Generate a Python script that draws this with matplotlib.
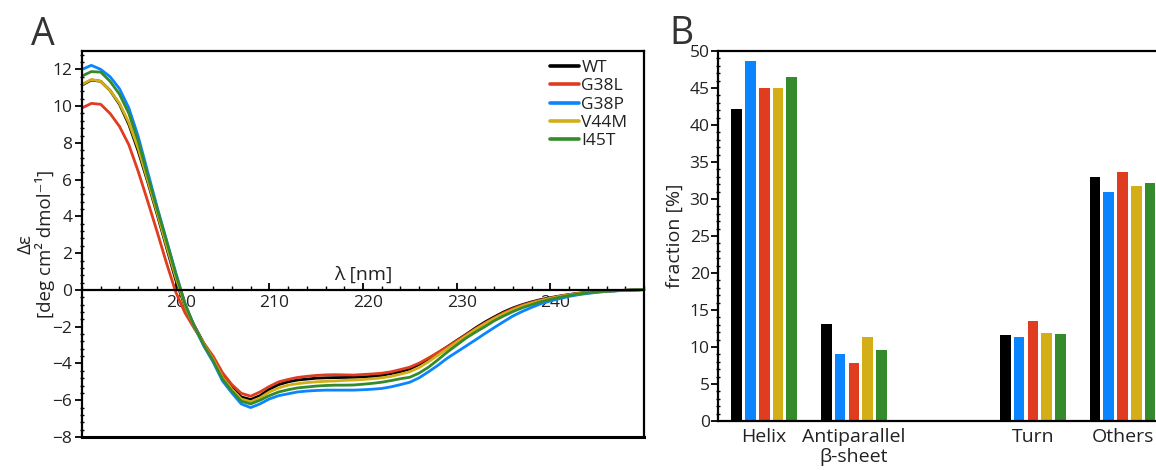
import numpy as np
import matplotlib
matplotlib.use("Agg")
import matplotlib.pyplot as plt
from matplotlib.ticker import MultipleLocator, AutoMinorLocator
from matplotlib.transforms import ScaledTranslation

plt.rcParams['font.family'] = ['Open Sans', 'DejaVu Sans']

# CD spectra, 190-250 nm in 1 nm steps
wavelength = np.arange(190, 251)

wt = [11.15, 11.42, 11.35, 10.85, 10.1, 9.0, 7.55, 5.9, 4.15, 2.35,
      0.55, -0.9, -1.95, -2.9, -3.7, -4.65, -5.3, -5.82, -5.96, -5.75,
      -5.4, -5.15, -5.0, -4.9, -4.85, -4.8, -4.78, -4.77, -4.76, -4.75,
      -4.73, -4.7, -4.65, -4.55, -4.45, -4.3, -4.05, -3.75, -3.42, -3.09,
      -2.75, -2.42, -2.07, -1.75, -1.47, -1.2, -0.98, -0.8, -0.65, -0.52,
      -0.42, -0.33, -0.25, -0.18, -0.13, -0.09, -0.06, -0.04, -0.02, 0.0, 0.02]
g38l = [9.9, 10.15, 10.1, 9.6, 8.9, 7.9, 6.45, 4.85, 3.2, 1.5,
        -0.1, -1.25, -2.1, -2.9, -3.6, -4.5, -5.15, -5.62, -5.78, -5.55,
        -5.25, -5.0, -4.87, -4.76, -4.7, -4.65, -4.62, -4.61, -4.62, -4.63,
        -4.6, -4.57, -4.53, -4.45, -4.33, -4.2, -3.98, -3.7, -3.4, -3.09,
        -2.77, -2.45, -2.12, -1.8, -1.52, -1.25, -1.02, -0.83, -0.68, -0.55,
        -0.44, -0.34, -0.26, -0.19, -0.13, -0.09, -0.06, -0.04, -0.02, 0.0, 0.02]
g38p = [12.0, 12.22, 12.0, 11.6, 10.95, 9.9, 8.35, 6.45, 4.55, 2.75,
        0.95, -0.75, -2.0, -3.05, -3.92, -4.95, -5.6, -6.2, -6.4, -6.2,
        -5.93, -5.75, -5.65, -5.55, -5.5, -5.47, -5.45, -5.45, -5.45, -5.45,
        -5.43, -5.4, -5.36, -5.27, -5.15, -5.02, -4.78, -4.45, -4.1, -3.71,
        -3.38, -3.05, -2.72, -2.38, -2.05, -1.73, -1.42, -1.17, -0.95, -0.75,
        -0.6, -0.47, -0.35, -0.26, -0.19, -0.13, -0.08, -0.05, -0.02, 0.0, 0.02]
v44m = [11.18, 11.45, 11.35, 10.85, 10.15, 9.1, 7.7, 6.0, 4.25, 2.45,
        0.7, -0.85, -2.0, -2.95, -3.78, -4.75, -5.4, -5.93, -6.08, -5.87,
        -5.55, -5.33, -5.18, -5.1, -5.04, -5.0, -4.97, -4.95, -4.92, -4.9,
        -4.87, -4.83, -4.78, -4.7, -4.58, -4.45, -4.22, -3.9, -3.55, -3.2,
        -2.85, -2.5, -2.15, -1.85, -1.56, -1.3, -1.08, -0.88, -0.72, -0.58,
        -0.46, -0.36, -0.27, -0.2, -0.14, -0.1, -0.06, -0.04, -0.02, 0.0, 0.02]
i45t = [11.64, 11.88, 11.85, 11.35, 10.65, 9.6, 8.1, 6.25, 4.45, 2.7,
        0.9, -0.75, -2.0, -3.0, -3.85, -4.85, -5.5, -6.05, -6.2, -6.0,
        -5.75, -5.55, -5.43, -5.33, -5.28, -5.23, -5.2, -5.18, -5.18, -5.17,
        -5.13, -5.08, -5.02, -4.93, -4.83, -4.75, -4.52, -4.2, -3.8, -3.38,
        -3.0, -2.62, -2.3, -2.0, -1.68, -1.42, -1.18, -0.97, -0.8, -0.64,
        -0.51, -0.4, -0.3, -0.22, -0.16, -0.11, -0.07, -0.04, -0.02, 0.0, 0.02]

variants = ["WT", "G38L", "G38P", "V44M", "I45T"]
colors = {"WT": "#000000", "G38L": "#e03c20", "G38P": "#0a84ff",
          "V44M": "#d4ae16", "I45T": "#358a2b"}
spectra = {"WT": wt, "G38L": g38l, "G38P": g38p, "V44M": v44m, "I45T": i45t}

# secondary structure fractions [%]
categories = ["Helix", "Antiparallel\n\u03b2-sheet", "", "Turn", "Others"]
bar_order = ["WT", "G38P", "G38L", "V44M", "I45T"]
fractions = {
    "WT":   [42.1, 13.15, 0, 11.6, 33.0],
    "G38P": [48.7, 9.0, 0, 11.3, 31.0],
    "G38L": [44.95, 7.8, 0, 13.5, 33.7],
    "V44M": [44.95, 11.3, 0, 11.85, 31.8],
    "I45T": [46.45, 9.6, 0, 11.7, 32.1],
}

W, H = 1156, 470
fig = plt.figure(figsize=(W / 100, H / 100), dpi=100)
txt = '#222222'

# ---- panel A ----
axA = fig.add_axes([82 / W, 1 - 437 / H, (644 - 82) / W, (437 - 51) / H])
for v in variants:
    axA.plot(wavelength, spectra[v], color=colors[v], lw=2.0, label=v,
             solid_joinstyle='round', solid_capstyle='round')
axA.set_xlim(190, 250)
axA.set_ylim(-8, 13)
axA.spines['bottom'].set_position(('data', 0))
for s in axA.spines.values():
    s.set_linewidth(1.6)
axA.axhline(-8, color='black', lw=2.2, clip_on=False, zorder=5)
axA.set_xticks([200, 210, 220, 230, 240])
axA.xaxis.set_minor_locator(MultipleLocator(2))
axA.set_yticks(np.arange(-8, 13, 2))
axA.yaxis.set_minor_locator(AutoMinorLocator(5))
axA.tick_params(axis='both', which='major', labelsize=12.5, width=1.3, length=5,
                colors='black', labelcolor=txt)
axA.tick_params(axis='y', which='major', direction='out', pad=2)
axA.tick_params(axis='y', which='minor', direction='inout', length=3, width=1)
axA.tick_params(axis='x', which='major', direction='in', length=5)
axA.tick_params(axis='x', which='minor', direction='in', length=3, width=1)
for lab in axA.get_xticklabels():
    lab.set_transform(lab.get_transform() + ScaledTranslation(5 / 100, 0, fig.dpi_scale_trans))
axA.text(220, 0.85, "\u03bb [nm]", ha='center', va='center', fontsize=14, color=txt)
axA.set_ylabel("\u0394\u03b5\n[deg cm\u00b2 dmol\u207b\u00b9]", fontsize=13.5, color=txt,
               linespacing=1.05)
axA.yaxis.set_label_coords(-0.048, 0.5)
axA.legend(loc='upper left', bbox_to_anchor=(550 / W, 1 - 60 / H),
           bbox_transform=fig.transFigure, frameon=False, fontsize=12.5,
           handlelength=1.65, handletextpad=0.15, labelspacing=0.12,
           borderpad=0, borderaxespad=0)
for t in axA.get_legend().get_texts():
    t.set_color(txt)
for line in axA.get_legend().get_lines():
    line.set_linewidth(2.6)

# ---- panel B ----
axB = fig.add_axes([718 / W, 1 - 421 / H, (W - 718) / W, (421 - 51) / H])
pos = np.arange(len(categories))
pitch = 0.1536
for j, v in enumerate(bar_order):
    axB.bar(pos + (j - 2) * pitch, fractions[v], width=0.118, color=colors[v])
axB.set_xlim(-0.516, 4.374)
axB.set_ylim(0, 50)
axB.spines['right'].set_visible(False)
for s in ['left', 'bottom', 'top']:
    axB.spines[s].set_linewidth(1.6)
axB.set_xticks(pos)
axB.set_xticklabels(categories, fontsize=14, color=txt, linespacing=1.15)
axB.tick_params(axis='x', length=0, pad=5)
axB.set_yticks(np.arange(0, 51, 5))
axB.yaxis.set_minor_locator(AutoMinorLocator(5))
axB.tick_params(axis='y', which='major', direction='out', length=5, width=1.3,
                labelsize=12.5, labelcolor=txt, pad=1)
axB.tick_params(axis='y', which='minor', direction='inout', length=3, width=1)
axB.set_ylabel("fraction [%]", fontsize=14, color=txt)
axB.yaxis.set_label_coords(-0.078, 0.5)

fig.text(31 / W, 1 - 45 / H, "A", fontsize=27, color='#333333', va='baseline', ha='left')
fig.text(669 / W, 1 - 44 / H, "B", fontsize=27, color='#333333', va='baseline', ha='left')

fig.savefig("out.png", dpi=100)
